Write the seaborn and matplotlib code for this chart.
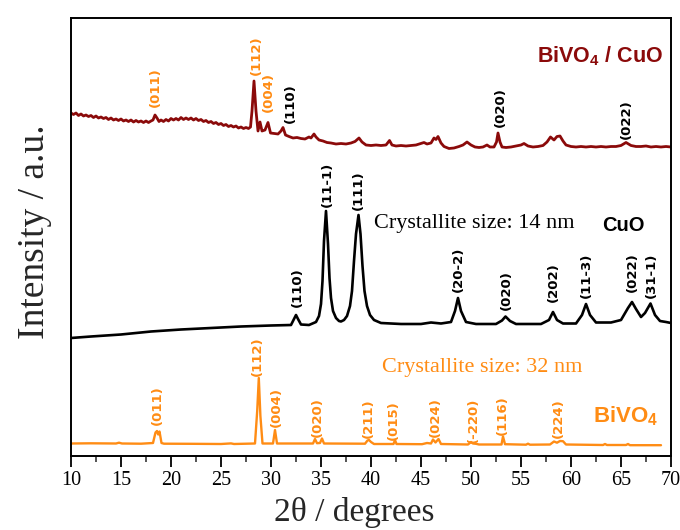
import numpy as np
import pandas as pd
import matplotlib
matplotlib.use("Agg")
import matplotlib.pyplot as plt
import seaborn as sns
from matplotlib.ticker import MultipleLocator

# ---------------- data (2theta in degrees, intensity in a.u. incl. stacking offset) -------------
bivo4_x = [10.0, 12.0, 14.5, 14.8, 15.1, 17.0, 18.2, 18.45, 18.6, 18.72, 18.85, 19.05, 19.3, 22.0,
           25.0, 26.0, 26.3, 28.4, 28.62, 28.78, 28.94, 29.15, 30.2, 30.4, 30.6, 34.2, 34.4, 34.6,
           34.9, 35.1, 35.3, 39.4, 39.65, 39.8, 40.0, 40.3, 42.25, 42.4, 42.55, 45.1, 45.6, 46.0,
           46.2, 46.45, 46.75, 47.0, 49.7, 50.0, 50.2, 50.5, 50.8, 53.05, 53.2, 53.4, 55.5, 55.7,
           55.9, 57.9, 58.3, 58.6, 58.9, 59.2, 59.5, 63.2, 63.4, 63.6, 65.5, 65.7, 65.9, 69.0]
bivo4_y = [12.5, 12.7, 12.5, 13.3, 12.5, 12.3, 13.0, 23.5, 25.0, 21.5, 24.5, 13.0, 12.3, 12.2,
           12.0, 12.6, 12.0, 12.5, 45.0, 78.0, 40.0, 12.5, 12.5, 26.0, 12.5, 12.5, 17.0, 12.8,
           13.0, 17.5, 12.5, 12.3, 15.5, 16.0, 14.0, 12.0, 12.0, 16.0, 12.0, 11.8, 13.0, 12.5,
           16.5, 13.5, 17.0, 12.0, 11.5, 14.0, 12.5, 12.2, 11.5, 11.5, 19.5, 11.8, 11.3, 12.3,
           11.3, 11.5, 14.5, 13.3, 15.0, 14.8, 11.5, 11.0, 12.0, 11.0, 11.0, 12.0, 10.8, 10.8]

cuo_x = [10.0, 12.0, 15.0, 18.0, 21.0, 24.0, 27.0, 30.0, 32.0, 32.3, 32.5, 32.7, 33.0, 33.8,
         34.5, 34.8, 35.0, 35.15, 35.3, 35.5, 35.7, 35.85, 36.0, 36.2, 36.5, 36.8, 37.0, 37.3,
         37.6, 37.9, 38.1, 38.3, 38.5, 38.75, 38.95, 39.15, 39.35, 39.6, 39.9, 40.3, 41.0,
         43.0, 45.0, 46.0, 47.0, 48.0, 48.4, 48.7, 49.0, 49.5, 50.5, 52.5, 53.1,
         53.45, 53.9, 54.5, 57.0, 57.8, 58.2, 58.6, 59.2, 60.5, 61.1, 61.5, 61.9, 62.5, 64.0,
         65.0, 65.7, 66.1, 66.5, 67.0, 67.4, 67.95, 68.4, 68.9, 69.5, 70.0]
cuo_y = [118.0, 119.5, 121.5, 124.5, 126.5, 128.0, 129.5, 130.5, 131.0, 137.0, 141.0, 137.0,
         131.5, 131.0, 134.0, 140.0, 152.0, 175.0, 215.0, 245.0, 212.0, 178.0, 158.0, 145.0,
         138.0, 135.0, 134.5, 136.0, 140.0, 150.0, 165.0, 195.0, 222.0, 241.0, 222.0, 190.0,
         165.0, 150.0, 141.0, 136.0, 133.0,
         132.0, 132.0, 133.5, 132.5, 134.0, 145.0, 158.0, 145.0, 134.0, 132.0, 132.0, 135.5,
         139.5, 135.0, 132.0, 132.0, 136.0, 144.0, 136.0, 132.5, 132.5, 141.0, 152.0, 141.0,
         133.5, 133.5, 136.0, 148.0, 154.0, 147.0, 139.0, 143.0, 152.5, 141.0, 135.0, 134.0,
         133.0]

comp_x = [10.0, 10.25, 10.5, 10.75, 11.0, 11.25, 11.5, 11.75, 12.0, 12.25, 12.5, 12.75, 13.0,
          13.25, 13.5, 13.75, 14.0, 14.25, 14.5, 14.75, 15.0, 15.25, 15.5, 15.75, 16.0, 16.25,
          16.5, 16.75, 17.0, 17.25, 17.5, 17.75, 18.0, 18.2, 18.4, 18.6, 18.8, 19.0, 19.25,
          19.5, 19.75, 20.0, 20.25, 20.5, 20.75, 21.0, 21.25, 21.5, 21.75, 22.0, 22.25, 22.5,
          22.75, 23.0, 23.25, 23.5, 23.75, 24.0, 24.25, 24.5, 24.75, 25.0, 25.25, 25.5, 25.75,
          26.0, 26.25, 26.5, 26.75, 27.0, 27.25, 27.5, 27.75, 27.95, 28.1,
          28.3, 28.5, 28.7, 28.9, 29.1, 29.4, 29.7, 29.95, 30.3, 30.7, 31.0, 31.2, 31.45, 31.8,
          32.2, 32.6, 33.0, 33.4, 33.8, 34.0, 34.3, 34.5, 34.8, 35.2, 35.6, 36.0, 36.5, 37.0,
          37.5, 38.0, 38.4, 38.8, 39.1, 39.5, 40.0, 40.5, 41.0, 41.5, 41.85, 42.1, 42.5, 43.0,
          43.5, 44.0, 44.5, 45.0, 45.3, 45.6, 46.0, 46.3, 46.5, 46.7, 47.0, 47.3, 47.8, 48.3,
          48.8, 49.2, 49.6, 50.0, 50.4, 50.8, 51.2, 51.6, 51.9, 52.3, 52.55, 52.7, 52.9, 53.1,
          53.5, 54.0, 54.5, 55.0, 55.3, 55.7, 56.2, 56.7, 57.2, 57.6, 57.95, 58.3, 58.6, 58.9,
          59.2, 59.5, 60.0, 60.5, 61.0, 61.5, 62.0, 62.5, 63.0, 63.5, 64.0, 64.5, 65.0, 65.5,
          66.0, 66.5, 67.0, 67.5, 68.0, 68.5, 69.0, 69.5, 70.0]
comp_y = [343.0, 341.5, 343.0, 340.5, 342.0, 340.0, 341.0, 339.5, 340.5, 338.5, 340.0, 338.0,
          339.0, 337.5, 338.5, 336.5, 338.0, 336.0, 337.0, 335.5, 337.0, 335.0, 336.0, 334.5,
          336.0, 334.0, 335.5, 334.0, 335.0, 333.5, 335.0, 333.5, 335.0, 336.0, 341.0, 338.0,
          334.5, 336.0, 334.5, 336.5, 335.0, 337.5, 336.0, 337.5, 336.0, 338.5, 336.5, 338.0,
          336.5, 338.0, 336.0, 337.5, 335.5, 336.5, 334.5, 335.5, 333.5, 334.5, 332.5, 333.5,
          331.5, 332.5, 330.5, 331.5, 329.5, 330.5, 329.0, 330.0, 328.0, 329.0, 327.5, 328.5,
          327.5, 329.0, 345.0,
          375.0, 345.0, 325.0, 334.0, 325.0, 326.0,
          333.5, 323.0, 322.5, 322.0, 325.0, 328.5, 321.0, 319.5, 318.0, 318.5, 317.5, 317.0,
          319.0, 318.0, 322.0, 319.0, 316.0, 315.0, 313.5, 313.0, 312.0, 312.5, 312.0, 313.0,
          314.5, 318.0, 314.0, 311.0, 310.5, 311.0, 310.5, 311.0, 315.5, 311.0, 310.0, 310.5,
          310.0, 310.5, 311.0, 312.5, 313.5, 312.0, 313.0, 318.0, 316.5, 319.5, 313.0, 309.5,
          307.5, 308.0, 309.5, 311.0, 314.0, 311.0, 309.0, 308.5, 309.0, 311.0, 309.0, 309.0,
          314.0, 323.0, 314.0, 309.0, 308.5, 309.0, 310.0, 311.0, 312.5, 310.0, 309.0, 309.5,
          310.5, 314.0, 319.0, 316.0, 319.5, 320.0, 315.0, 311.0, 309.5, 309.0, 309.5, 309.0,
          309.5, 309.0, 309.5, 309.0, 309.5, 309.5, 310.5, 313.5, 310.5, 309.5, 309.5, 310.0,
          309.0, 309.5, 309.0, 309.5, 309.0]

# reflection labels: text, 2theta, intensity level of label foot, phase
bivo4_hkl = ["(011)", "(112)", "(004)", "(020)", "(211)", "(015)", "(024)", "(-220)", "(116)", "(224)"]
bivo4_hkl_x = [18.6, 28.6, 30.5, 34.6, 39.7, 42.2, 46.4, 50.2, 53.1, 58.75]
bivo4_hkl_y = [31, 80, 29, 19, 18, 16, 19, 13, 21, 18]

cuo_hkl = ["(110)", "(11-1)", "(111)", "(20-2)", "(020)", "(202)", "(11-3)", "(022)", "(31-1)"]
cuo_hkl_x = [32.6, 35.6, 38.7, 48.7, 53.5, 58.2, 61.5, 66.1, 68.0]
cuo_hkl_y = [149, 249, 246, 164, 146, 154, 158, 164, 158]

comp_hkl = ["(011)", "(112)", "(004)", "(110)", "(020)", "(022)"]
comp_hkl_x = [18.4, 28.5, 29.7, 31.9, 52.9, 65.5]
comp_hkl_y = [349, 381, 344, 333, 329, 317]
comp_hkl_phase = ["BiVO4", "BiVO4", "BiVO4", "CuO", "CuO", "CuO"]

x_ticks = [10, 15, 20, 25, 30, 35, 40, 45, 50, 55, 60, 65, 70]

# ---------------- styling -------------
sns.set_theme(style="ticks")
plt.rcParams["font.family"] = ["Liberation Serif", "DejaVu Serif"]
plt.rcParams["mathtext.fontset"] = "custom"
plt.rcParams["mathtext.rm"] = "Liberation Sans:bold"
plt.rcParams["mathtext.it"] = "Liberation Sans:bold"
plt.rcParams["mathtext.bf"] = "Liberation Sans:bold"

ORANGE = "#FF8C14"
DARKRED = "#8B0A0A"
BLACK = "#000000"
phase_color = {"BiVO4": ORANGE, "CuO": BLACK}

fig = plt.figure(figsize=(6.8, 5.3), dpi=100)
ax = fig.add_axes([71 / 680, 1 - 456 / 530, 600 / 680, 438 / 530])

df_b = pd.DataFrame({"two_theta": bivo4_x, "intensity": bivo4_y})
df_c = pd.DataFrame({"two_theta": cuo_x, "intensity": cuo_y})
df_m = pd.DataFrame({"two_theta": comp_x, "intensity": comp_y})

sns.lineplot(data=df_b, x="two_theta", y="intensity", ax=ax, color=ORANGE, lw=1.7,
             estimator=None, sort=False)
sns.lineplot(data=df_c, x="two_theta", y="intensity", ax=ax, color=BLACK, lw=1.9,
             estimator=None, sort=False)
sns.lineplot(data=df_m, x="two_theta", y="intensity", ax=ax, color=DARKRED, lw=2.0,
             estimator=None, sort=False)

lab_kw = dict(rotation=90, ha="center", va="bottom", fontsize=9.5,
              family=["DejaVu Sans"], fontweight="bold")
for t, xx, yy in zip(bivo4_hkl, bivo4_hkl_x, bivo4_hkl_y):
    ax.text(xx, yy, t, color=ORANGE, **lab_kw)
for t, xx, yy in zip(cuo_hkl, cuo_hkl_x, cuo_hkl_y):
    ax.text(xx, yy, t, color=BLACK, **lab_kw)
for t, xx, yy, ph in zip(comp_hkl, comp_hkl_x, comp_hkl_y, comp_hkl_phase):
    ax.text(xx, yy, t, color=phase_color[ph], **lab_kw)

bold_kw = dict(family=["Liberation Sans"], fontweight="bold", va="baseline", ha="left")
ax.text(56.6, 394, "BiVO$_4$ / CuO", color=DARKRED, fontsize=15.5, **bold_kw)
ax.text(63.1, 225, "CuO", color=BLACK, fontsize=14.5, **bold_kw)
ax.text(62.2, 34, "BiVO$_4$", color=ORANGE, fontsize=16, **bold_kw)

ax.text(40.3, 228, "Crystallite size: 14 nm", color=BLACK, fontsize=16, va="baseline", ha="left")
ax.text(41.1, 84, "Crystallite size: 32 nm", color=ORANGE, fontsize=16, va="baseline", ha="left")

ax.set_xlim(10, 70)
ax.set_ylim(0, 438)
ax.set_xticks(x_ticks)
ax.xaxis.set_minor_locator(MultipleLocator(2.5))
ax.set_yticks([])
ax.tick_params(axis="x", which="major", direction="out", length=8, width=1.3,
               labelsize=14.5, pad=3, colors=BLACK)
ax.tick_params(axis="x", which="minor", direction="out", length=4.5, width=1.1)
for s in ax.spines.values():
    s.set_visible(True)
    s.set_linewidth(1.4)
    s.set_color(BLACK)

ax.set_xlabel("2θ / degrees", fontsize=24, va="baseline")
ax.xaxis.set_label_coords((354.6 - 71) / 600, (456 - 521) / 438)
ax.set_ylabel("Intensity / a.u.", fontsize=27, va="baseline")
ax.yaxis.set_label_coords((44 - 71) / 600, (456 - 231.5) / 438)

fig.savefig("out.png", dpi=100)
